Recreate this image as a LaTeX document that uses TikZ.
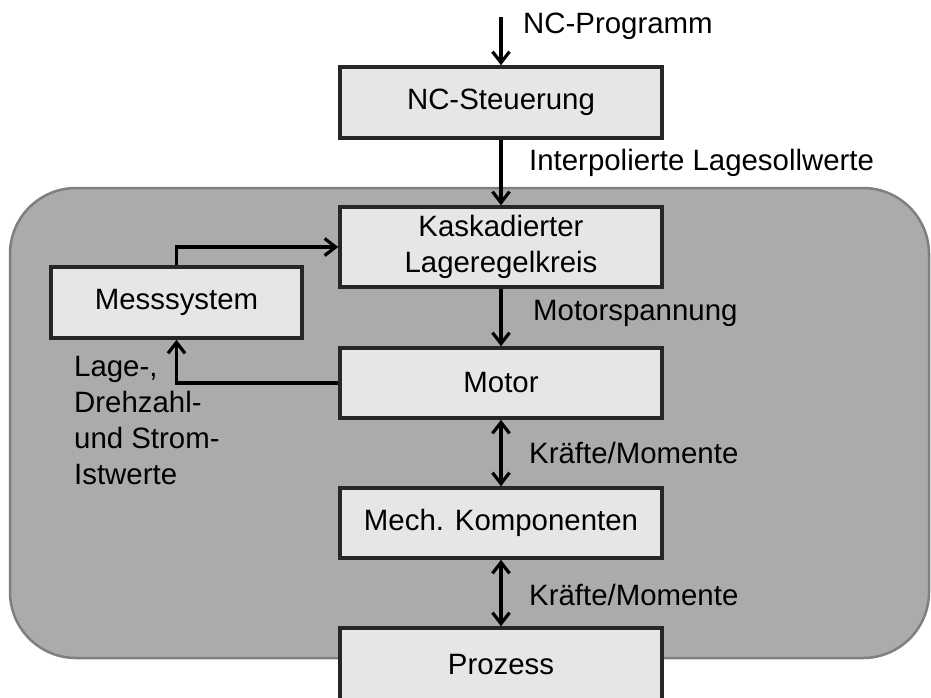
\documentclass[tikz,border=0pt]{standalone}
\usepackage{fontspec}
\setmainfont{Liberation Sans}
\usetikzlibrary{arrows.meta}
\definecolor{panel}{HTML}{ABABAB}
\definecolor{panelrim}{HTML}{7F7F7F}
\definecolor{boxfill}{HTML}{E6E6E6}
\definecolor{boxrim}{HTML}{262626}
\begin{document}
\begin{tikzpicture}[x=1pt,y=-1pt,
  every node/.style={font=\fontsize{29.4}{36}\selectfont, text=black},
  block/.style={draw=boxrim, fill=boxfill, line width=3.5pt, inner sep=0pt,
    minimum width=322pt, minimum height=71pt, align=center},
  flow/.style={line width=3.2pt, -{Straight Barb[length=11pt,width=17pt,line width=3.2pt]}},
  both/.style={line width=3.2pt, {Straight Barb[length=11pt,width=17pt,line width=3.2pt]}-{Straight Barb[length=11pt,width=17pt,line width=3.2pt]}},
  plain/.style={line width=3.2pt},
  lbl/.style={anchor=west, inner sep=0pt}]
\useasboundingbox (0,0) rectangle (931,697);
\clip (0,0) rectangle (931,697);

% control loop panel
\draw[fill=panel, draw=panelrim, line width=2.5pt, rounded corners=66pt]
  (10,188) rectangle (929,658);

% blocks
\node[block] (nc)    at (501,102.5) {NC-Steuerung};
\node[block, minimum height=80pt] (kask) at (501,247) {Kaskadierter\\Lageregelkreis};
\node[block, minimum width=251pt] (mess) at (176.5,302.5) {Messsystem};
\node[block, minimum height=70pt] (motor) at (501,383) {Motor};
\node[block, minimum height=70pt] (mech)  at (501,523) {Mech. Komponenten};
\node[block, minimum height=74pt] (proz)  at (501,665) {Prozess};

% signal flow
\coordinate (prog) at (501,17);
\draw[flow] (prog) -- (nc.north);
\draw[flow] (nc.south) -- (kask.north);
\draw[flow] (kask.south) -- (motor.north);
\draw[both] (motor.south) -- (mech.north);
\draw[both] (mech.south) -- (proz.north);
\draw[flow] (mess.north) |- (kask.west);
\draw[flow] (motor.west) -| (mess.south);

% labels
\node[lbl] (lprog) at (523,26) {NC-Programm};
\node[lbl] (lsoll) at (529,163) {Interpolierte Lagesollwerte};
\node[lbl] (lspan) at (533,313) {Motorspannung};
\node[lbl] (lkr1)  at (529,453) {Kräfte/Momente};
\node[lbl] (lkr2)  at (529,595) {Kräfte/Momente};
\node[anchor=north west, inner sep=0pt, align=left] (list) at (74,356)
  {Lage-,\\Drehzahl-\\und Strom-\\Istwerte};
\end{tikzpicture}
\end{document}
